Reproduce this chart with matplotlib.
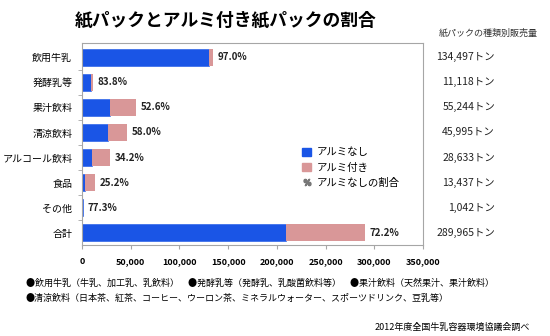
#!/usr/bin/env python3
import matplotlib
matplotlib.use("Agg")
import matplotlib.pyplot as plt
from matplotlib.patches import Patch
from matplotlib.lines import Line2D

plt.rcParams["font.family"] = ["Noto Sans CJK JP", "DejaVu Sans"]

W, H = 550, 336

# data
categories = ["飲用牛乳", "発酵乳等", "果汁飲料", "清涼飲料", "アルコール飲料", "食品", "その他", "合計"]
totals = [134497, 11118, 55244, 45995, 28633, 13437, 1042, 289965]
pct_no_alu = [97.0, 83.8, 52.6, 58.0, 34.2, 25.2, 77.3, 72.2]
no_alu = [130462, 9317, 29058, 26677, 9792, 3386, 805, 209355]
with_alu = [4035, 1801, 26186, 19318, 18841, 10051, 237, 80610]
xticks = [0, 50000, 100000, 150000, 200000, 250000, 300000, 350000]

BLUE = "#1a55e6"
PINK = "#d99798"
GRID = "#a6a6a6"


def fx(x):
    return x / W


def fy(y):
    return 1 - y / H


fig = plt.figure(figsize=(W / 100, H / 100), dpi=100)
ax = fig.add_axes([fx(82), fy(245), fx(423) - fx(82), fy(43) - fy(245)])

ypos = list(range(len(categories)))
ax.barh(ypos, no_alu, height=0.68, color=BLUE, edgecolor=BLUE, linewidth=0.4, label="アルミなし")
ax.barh(ypos, with_alu, left=no_alu, height=0.68, color=PINK, label="アルミ付き")

for y, a, b, p in zip(ypos, no_alu, with_alu, pct_no_alu):
    ax.text(a + b + 5000, y, f"{p:.1f}%", va="center", ha="left",
            fontsize=7, fontweight="bold", color="#222222")

ax.set_xlim(0, 350000)
ax.set_ylim(7.48, -0.56)
ax.set_xticks(xticks)
ax.set_xticklabels([f"{v:,}" for v in xticks], fontsize=6.5, fontweight="bold")
ax.set_yticks(ypos)
ax.set_yticklabels(categories, fontsize=7.2)
ax.set_yticks([y + 0.5 for y in ypos[:-1]], minor=True)
ax.tick_params(axis="y", which="major", length=0, pad=7)
ax.tick_params(axis="y", which="minor", length=3, color=GRID)
ax.tick_params(axis="x", length=3, color=GRID, pad=6)
for s in ax.spines.values():
    s.set_color(GRID)
    s.set_linewidth(0.8)

handles = [Patch(color=BLUE, label="アルミなし"),
           Patch(color=PINK, label="アルミ付き"),
           Line2D([], [], linestyle="none", marker="$\\%$", color="#777777",
                  markersize=5, label="アルミなしの割合")]
fig.legend(handles=handles, loc="upper left", bbox_to_anchor=(fx(293), fy(138)),
           frameon=False, fontsize=7.5, handlelength=0.8, handleheight=0.8,
           handletextpad=0.6, labelspacing=0.5)

fig.text(fx(226), fy(20), "紙パックとアルミ付き紙パックの割合", ha="center", va="center",
         fontsize=12.8, fontweight="bold")
fig.text(fx(488), fy(33), "紙パックの種類別販売量", ha="center", va="center", fontsize=6.5,
         color="#333333")

# right-hand totals, aligned with bars
for y, t in zip(ypos, totals):
    ax.annotate(f"{t:,}トン", xy=(fx(495), y), xycoords=("figure fraction", "data"),
                ha="right", va="center", fontsize=7.5, color="#222222",
                annotation_clip=False)

fig.text(fx(26), fy(283),
         "●飲用牛乳（牛乳、加工乳、乳飲料）　●発酵乳等（発酵乳、乳酸菌飲料等）　●果汁飲料（天然果汁、果汁飲料）",
         ha="left", va="center", fontsize=6.5)
fig.text(fx(26), fy(298),
         "●清涼飲料（日本茶、紅茶、コーヒー、ウーロン茶、ミネラルウォーター、スポーツドリンク、豆乳等）",
         ha="left", va="center", fontsize=6.5)
fig.text(fx(530), fy(327), "2012年度全国牛乳容器環境協議会調べ", ha="right", va="center",
         fontsize=6.5)

fig.savefig("out.png", dpi=100)
